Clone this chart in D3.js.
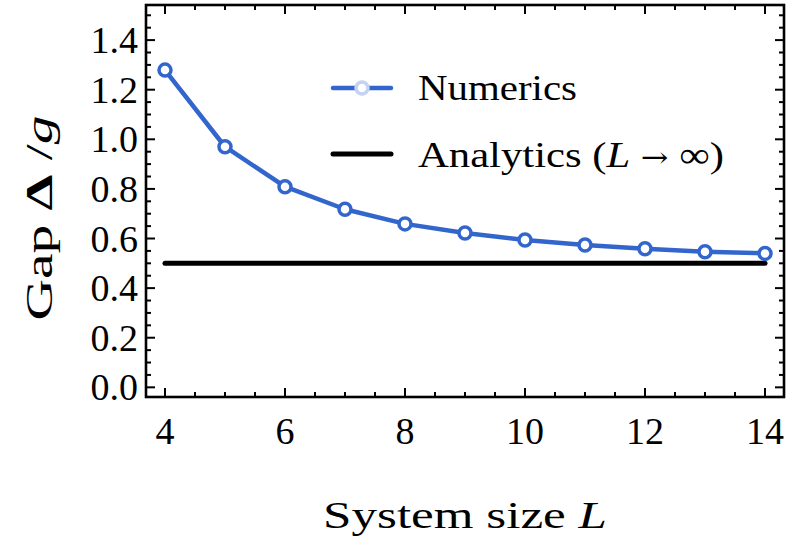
<!DOCTYPE html>
<html>
<head>
<meta charset="utf-8">
<script src="https://cdn.jsdelivr.net/npm/d3@7"></script>
</head>
<body style="margin:0;background:#fff">
<svg id="chart" width="787" height="537" style="display:block"></svg>
<script>
// System sizes and the numerically computed gap at each size
const sizes = [4, 5, 6, 7, 8, 9, 10, 11, 12, 13, 14];
const gapNumerics = [1.279, 0.970, 0.809, 0.718, 0.659, 0.622, 0.594, 0.574, 0.559, 0.547, 0.540];
// Analytic thermodynamic-limit value
const gapAnalytic = 0.5;
// Axis ticks
const xMajorTicks = [4, 6, 8, 10, 12, 14];
const yMajorTicks = [0.0, 0.2, 0.4, 0.6, 0.8, 1.0, 1.2, 1.4];

const blue = "#3366cc";
const serif = '"Liberation Serif"';
const svg = d3.select("#chart");

const frame = { left: 146, right: 784, top: 5, bottom: 397 };

const x = d3.scaleLinear().domain([3.6833, 14.3167]).range([frame.left, frame.right]);
const y = d3.scaleLinear().domain([-0.039, 1.5415]).range([frame.bottom, frame.top]);

// Minor tick positions
const xMinor = d3.range(4, 14.001, 0.5).filter(v => Math.abs(v / 2 - Math.round(v / 2)) > 1e-6);
const yMinor = d3.range(0, 1.5001, 0.05).filter(v => Math.abs(v / 0.2 - Math.round(v / 0.2)) > 1e-6);

const ticks = svg.append("g").attr("stroke", "#000").attr("stroke-width", 2);
// bottom & top ticks (inward)
xMajorTicks.forEach(v => {
  ticks.append("line").attr("x1", x(v)).attr("x2", x(v)).attr("y1", frame.bottom).attr("y2", frame.bottom - 9);
  ticks.append("line").attr("x1", x(v)).attr("x2", x(v)).attr("y1", frame.top).attr("y2", frame.top + 9);
});
xMinor.forEach(v => {
  ticks.append("line").attr("x1", x(v)).attr("x2", x(v)).attr("y1", frame.bottom).attr("y2", frame.bottom - 5);
  ticks.append("line").attr("x1", x(v)).attr("x2", x(v)).attr("y1", frame.top).attr("y2", frame.top + 5);
});
// left & right ticks (inward)
yMajorTicks.forEach(v => {
  ticks.append("line").attr("y1", y(v)).attr("y2", y(v)).attr("x1", frame.left).attr("x2", frame.left + 9);
  ticks.append("line").attr("y1", y(v)).attr("y2", y(v)).attr("x1", frame.right).attr("x2", frame.right - 9);
});
yMinor.forEach(v => {
  ticks.append("line").attr("y1", y(v)).attr("y2", y(v)).attr("x1", frame.left).attr("x2", frame.left + 5);
  ticks.append("line").attr("y1", y(v)).attr("y2", y(v)).attr("x1", frame.right).attr("x2", frame.right - 5);
});

// frame
svg.append("rect")
  .attr("x", frame.left).attr("y", frame.top)
  .attr("width", frame.right - frame.left).attr("height", frame.bottom - frame.top)
  .attr("fill", "none").attr("stroke", "#000").attr("stroke-width", 2.6);

// tick labels
svg.append("g").selectAll("text").data(xMajorTicks).join("text")
  .style("font-family", serif)
  .attr("x", d => x(d)).attr("y", 444)
  .attr("text-anchor", "middle").attr("font-size", 38)
  .text(d => d3.format("d")(d));

svg.append("g").selectAll("text").data(yMajorTicks).join("text")
  .style("font-family", serif)
  .attr("x", 138).attr("y", d => y(d) + 13)
  .attr("text-anchor", "end").attr("font-size", 38)
  .text(d => d3.format(".1f")(d));

// analytic limit line
svg.append("line")
  .attr("x1", x(sizes[0])).attr("x2", x(sizes[sizes.length - 1]))
  .attr("y1", y(gapAnalytic)).attr("y2", y(gapAnalytic))
  .attr("stroke", "#000").attr("stroke-width", 5).attr("stroke-linecap", "round");

// numerics curve
const pts = sizes.map((L, i) => [L, gapNumerics[i]]);
svg.append("path")
  .attr("d", d3.line().x(d => x(d[0])).y(d => y(d[1]))(pts))
  .attr("fill", "none").attr("stroke", blue).attr("stroke-width", 4.5)
  .attr("stroke-linejoin", "round");
svg.append("g").selectAll("circle").data(pts).join("circle")
  .attr("cx", d => x(d[0])).attr("cy", d => y(d[1])).attr("r", 6)
  .attr("fill", "#fff").attr("stroke", blue).attr("stroke-width", 3.5);

// legend
const lg = svg.append("g");
lg.append("line").attr("x1", 333).attr("x2", 391).attr("y1", 88).attr("y2", 88)
  .attr("stroke", blue).attr("stroke-width", 4.5).attr("stroke-linecap", "round");
lg.append("circle").attr("cx", 362).attr("cy", 88).attr("r", 6)
  .attr("fill", "#fff").attr("stroke", "#c3d2f1").attr("stroke-width", 3.5);
lg.append("text").style("font-family", serif)
  .attr("x", 418).attr("y", 100).attr("font-size", 36)
  .attr("textLength", 159).attr("lengthAdjust", "spacingAndGlyphs")
  .text("Numerics");

lg.append("line").attr("x1", 333).attr("x2", 391).attr("y1", 154).attr("y2", 154)
  .attr("stroke", "#000").attr("stroke-width", 5).attr("stroke-linecap", "round");
const at = lg.append("text").style("font-family", serif)
  .attr("x", 418).attr("y", 167).attr("font-size", 36)
  .attr("textLength", 306).attr("lengthAdjust", "spacingAndGlyphs");
at.append("tspan").text("Analytics (");
at.append("tspan").attr("font-style", "italic").text("L");
at.append("tspan").text(" ");
at.append("tspan").style("font-family", '"DejaVu Serif"').attr("font-size", 28).text("\u2192");
at.append("tspan").text(" \u221E)");

// axis titles
const xt = svg.append("text").style("font-family", serif)
  .attr("x", 465).attr("y", 528).attr("font-size", 38)
  .attr("text-anchor", "middle")
  .attr("textLength", 284).attr("lengthAdjust", "spacingAndGlyphs");
xt.append("tspan").text("System size ");
xt.append("tspan").attr("font-style", "italic").text("L");

const yt = svg.append("text").style("font-family", serif)
  .attr("transform", "translate(52,218) rotate(-90)")
  .attr("font-size", 38).attr("text-anchor", "middle")
  .attr("textLength", 205).attr("lengthAdjust", "spacingAndGlyphs");
yt.append("tspan").text("Gap ");
yt.append("tspan").attr("font-weight", "bold").text("\u0394");
yt.append("tspan").text(" /");
yt.append("tspan").attr("font-style", "italic").text("g");
</script>
</body>
</html>
